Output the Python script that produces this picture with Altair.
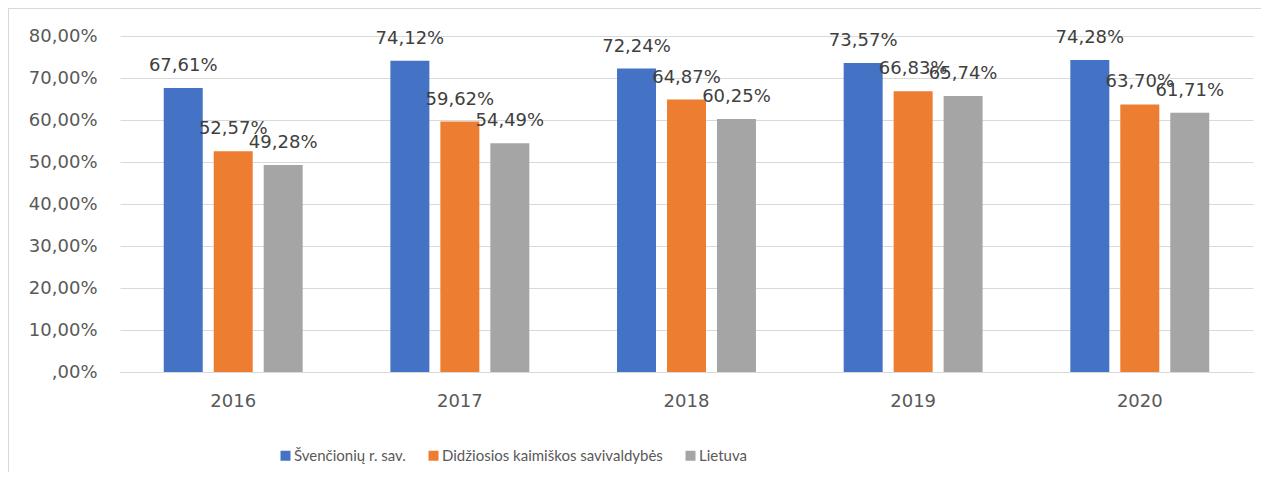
import altair as alt
import pandas as pd

years = ["2016", "2017", "2018", "2019", "2020"]
series = ["Švenčionių r. sav.", "Didžiosios kaimiškos savivaldybės", "Lietuva"]
svencionys = [67.61, 74.12, 72.24, 73.57, 74.28]
didziosios = [52.57, 59.62, 64.87, 66.83, 63.70]
lietuva = [49.28, 54.49, 60.25, 65.74, 61.71]
colors = ["#4472C4", "#ED7D31", "#A5A5A5"]
y_ticks = [0, 10, 20, 30, 40, 50, 60, 70, 80]

rows = []
for s, vals in zip(series, [svencionys, didziosios, lietuva]):
    for y, v in zip(years, vals):
        rows.append({"year": y, "series": s, "value": v,
                     "label": f"{v:.2f}".replace(".", ",") + "%"})
df = pd.DataFrame(rows)

W, H = 1133, 336

x_enc = alt.X("year:N", sort=years, title=None,
              scale=alt.Scale(paddingInner=0.387, paddingOuter=0.193),
              axis=alt.Axis(labelAngle=0, labelFont="DejaVu Sans", labelFontSize=18,
                            labelColor="#595959", labelPadding=20, ticks=False,
                            domain=True, domainColor="#d9d9d9", grid=False))
xo_enc = alt.XOffset("series:N", sort=series, scale=alt.Scale(paddingInner=0.22))
y_enc = alt.Y("value:Q", title=None,
              scale=alt.Scale(domain=[0, 80], nice=False),
              axis=alt.Axis(values=y_ticks, labelFont="DejaVu Sans", labelFontSize=18,
                            labelColor="#595959", labelPadding=23, ticks=False, domain=False,
                            gridColor="#d9d9d9", gridWidth=1,
                            labelExpr="datum.value == 0 ? ',00%' : replace(format(datum.value, '.2f'), '.', ',') + '%'"))

bars = alt.Chart(df).mark_bar().encode(
    x=x_enc, xOffset=xo_enc, y=y_enc,
    color=alt.Color("series:N", sort=series,
                    scale=alt.Scale(domain=series, range=colors),
                    legend=alt.Legend(title=None, orient="none", direction="horizontal",
                                      legendX=158, legendY=412,
                                      symbolType="square", symbolSize=100,
                                      symbolStrokeWidth=0,
                                      labelFont="Lato",
                                      labelFontSize=15, labelColor="#595959",
                                      labelOffset=1, columnPadding=20,
                                      labelLimit=400)),
)

labels = alt.Chart(df).mark_text(baseline="alphabetic", dy=-17, font="DejaVu Sans",
                                 fontSize=18, color="#404040").encode(
    x=alt.X("year:N", sort=years), xOffset=alt.XOffset("series:N", sort=series),
    y="value:Q", text="label:N")

frame_left = alt.Chart(df).mark_rule(color="#d9d9d9", strokeWidth=1).encode(
    x=alt.value(-111.5), y=alt.value(-28), y2=alt.value(470))
frame_top = alt.Chart(df).mark_rule(color="#d9d9d9", strokeWidth=1).encode(
    x=alt.value(-112), x2=alt.value(W + 8), y=alt.value(-27.5))

chart = alt.layer(bars, labels, frame_left, frame_top).properties(
    width=W, height=H,
    autosize=alt.AutoSizeParams(type="none"),
    padding={"left": 112, "top": 28, "right": 8, "bottom": 100},
).configure_view(stroke=None)

chart.save("out.html", embed_options={"renderer": "svg", "actions": False})
